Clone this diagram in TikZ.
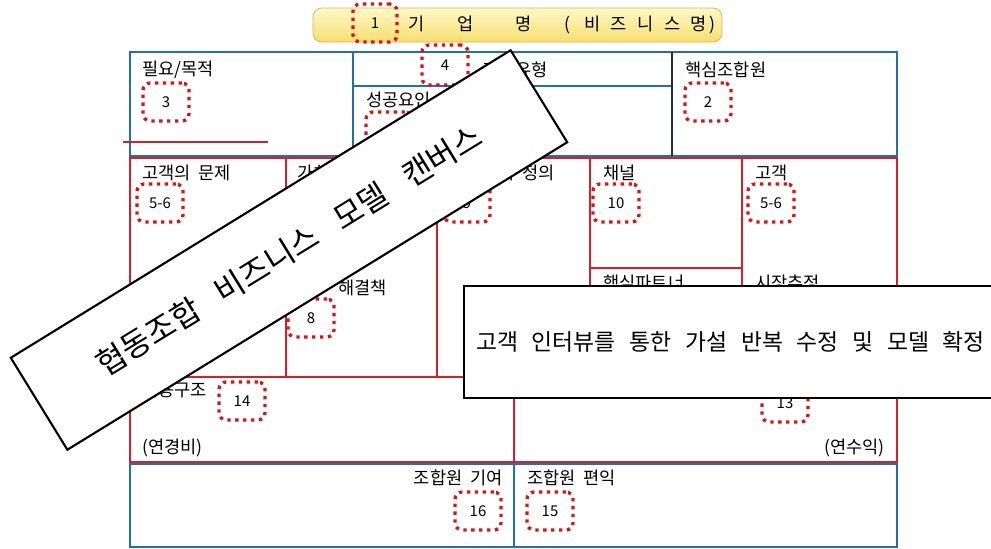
\documentclass[tikz,border=0pt]{standalone}
\usepackage{fontspec}
\setmainfont{Noto Sans CJK KR}
\usepackage{tikz}
\usetikzlibrary{positioning}

\definecolor{canvasblue}{RGB}{31,112,172}
\definecolor{canvasnavy}{RGB}{28,42,92}
\definecolor{canvasred}{RGB}{218,30,40}
\definecolor{dotred}{RGB}{222,18,18}
\definecolor{bannertop}{RGB}{255,249,200}
\definecolor{bannerbot}{RGB}{246,222,110}
\definecolor{bannerline}{RGB}{214,182,80}

\newcommand\widesp[1]{\spaceskip #1\relax}

\tikzset{
	numbox/.style={draw=dotred, line width=1.9pt, dash pattern=on 1.9pt off 2.6pt, rounded corners=4pt,
		minimum width=0.92cm, minimum height=0.76cm, inner sep=0pt, font=\fontsize{8.5}{9}\selectfont},
	lbl/.style={anchor=west, inner sep=0pt, font=\fontsize{10}{11}\selectfont\widesp{.45em}},
	blueline/.style={draw=canvasblue, line width=1.4pt},
	redline/.style={draw=canvasred, line width=1.4pt},
}

\begin{document}
\begin{tikzpicture}[x=0.02cm, y=-0.02cm]
				%\draw [help lines, step=50] (0,0) grid (991,548);
				\useasboundingbox (0,0) rectangle (991,548);
				% banner
				\draw [bannerline, top color=bannertop, bottom color=bannerbot, rounded corners=5pt] (313,8) rectangle (722,42);
				\node [lbl] (bizname) at (408,25) {기\hspace{1.85em}업\hspace{2.4em}명\hspace{1.85em}(\hspace{.8em}비\hspace{.6em}즈\hspace{.6em}니\hspace{.6em}스\hspace{.6em}명\hspace{.15em})};
				\node [numbox, minimum width=0.88cm] (n1) at (375,23) {1};

				% upper part
				\draw [blueline] (130,52) rectangle (897,156);
				\draw [blueline] (353,52) -- (353,156);
				\draw [blueline] (353,86) -- (672,86);
				\draw [draw=canvasnavy, line width=1.4pt] (672,52) -- (672,156);
				\draw [redline] (123,142) -- (268,142);

				% middle part
				\draw [redline] (130,158) rectangle (897,462);
				\foreach \x in {286,437,590,742}
					\draw [redline] (\x,158) -- (\x,377);
				\draw [redline] (590,268) -- (742,268);
				\draw [redline] (130,377) -- (897,377);
				\draw [redline] (514,377) -- (514,462);

				% lower part
				\draw [blueline] (130,464) rectangle (897,547);
				\draw [blueline] (514,464) -- (514,547);

				% labels
				\node [lbl] (need) at (142,70) {필요/목적};
				\node [lbl, anchor=east] (type) at (548,70) {조합유형};
				\node [lbl] (success) at (366,100) {성공요인};
				\node [lbl] (core) at (685,70) {핵심조합원};
				\node [lbl] (problem) at (142,173) {고객의 문제};
				\node [lbl] (offer) at (297,173) {가치 제안};
				\node [lbl, anchor=east] (value) at (555,173) {고유가치 정의};
				\node [lbl] (channel) at (603,173) {채널};
				\node [lbl] (customer) at (755,173) {고객};
				\node [lbl] (solution) at (338,288) {해결책};
				\node [lbl] (partner) at (603,283) {핵심파트너};
				\node [lbl] (market) at (755,283) {시장추정};
				\node [lbl] (cost) at (142,390) {비용구조};
				\node [lbl] (costyear) at (142,448) {(연경비)};
				\node [lbl, anchor=east] (revyear) at (885,448) {(연수익)};
				\node [lbl, anchor=east] (give) at (503,478) {조합원 기여};
				\node [lbl] (gain) at (527,478) {조합원 편익};

				% numbered marks
				\node [numbox, minimum height=0.8cm] (n4) at (445,65) {4};
				\node [numbox] (n3) at (166,102) {3};
				\node [numbox] (n2) at (708,102) {2};
				\node [numbox] (n5) at (389,131) {5};
				\node [numbox] (n56a) at (160,203) {5-6};
				\node [numbox] (n9) at (467,203) {9};
				\node [numbox] (n10) at (616,203) {10};
				\node [numbox] (n56b) at (771,203) {5-6};
				\node [numbox] (n8) at (311,318) {8};
				\node [numbox] (n14) at (242,401) {14};
				\node [numbox] (n13) at (785,403) {13};
				\node [numbox] (n16) at (478,511) {16};
				\node [numbox] (n15) at (550,511) {15};

				% overlays
				\node [draw, fill=white, line width=1.2pt, rotate=31.6, minimum width=11.74cm, minimum height=2.16cm,
					font=\fontsize{18}{20}\selectfont\widesp{.72em}] (title) at (289,250) {협동조합 비즈니스 모델 캔버스};
				\node [draw, fill=white, line width=1.2pt, anchor=north west, minimum height=2.24cm,
					text width=11.52cm, inner xsep=0.24cm, align=left,
					font=\fontsize{13}{15}\selectfont] (interview) at (463,285) {\widesp{.6em}고객 인터뷰를 통한 가설 반복 수정 및 모델 확정};
		\end{tikzpicture}
\end{document}
